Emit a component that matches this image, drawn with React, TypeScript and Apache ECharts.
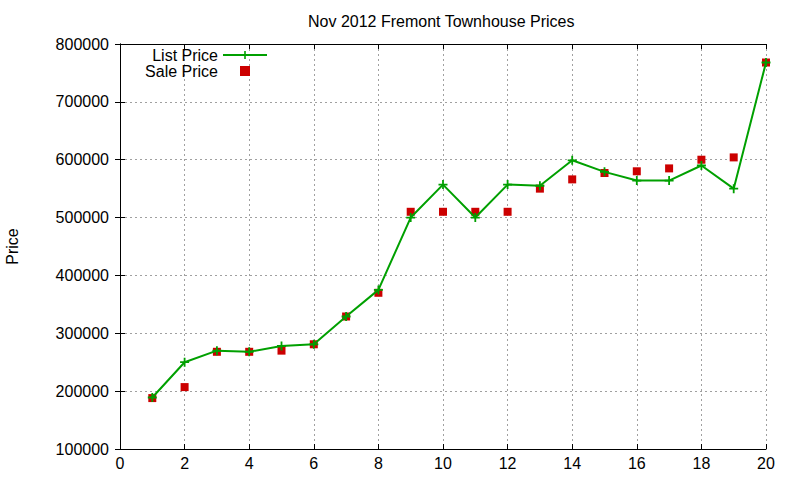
import { useEffect, useRef } from 'react';
import * as echarts from 'echarts';

// listing index 1..20
const listingIdx = [1, 2, 3, 4, 5, 6, 7, 8, 9, 10, 11, 12, 13, 14, 15, 16, 17, 18, 19, 20];
const listPrice = [
  189000, 250000, 270000, 268000, 278000, 281000, 329000, 375000, 500000, 557000,
  500000, 557000, 555000, 599000, 579000, 564000, 564000, 590000, 550000, 768000,
];
const salePrice = [
  188000, 207000, 268000, 268000, 270000, 281000, 329000, 370000, 510000, 510000,
  510000, 510000, 550000, 566000, 577000, 580000, 585000, 600000, 604000, 768000,
];

const GREEN = '#00a000';
const RED = '#cc0000';
const FONT = '"Liberation Sans", Arial, sans-serif';
const PLUS = 'path://M3.6,0H5.4V9H3.6Z M0,3.6H9V5.4H0Z';
const SQUARE = 'path://M0,0H10V10H0Z';

export default function App() {
  const ref = useRef<HTMLDivElement>(null);

  useEffect(() => {
    document.body.style.margin = '0';
    if (!ref.current) return;
    const chart = echarts.init(ref.current, undefined, { renderer: 'svg' });
    const tick = { show: true, inside: true, length: 5, lineStyle: { color: '#000' } };
    const line = { show: true, lineStyle: { color: '#000', width: 1 } };
    const grid = { show: true, lineStyle: { color: '#a0a0a0', type: [2, 3] as number[], width: 1 } };
    chart.setOption({
      animation: false,
      backgroundColor: '#fff',
      textStyle: { fontFamily: FONT },
      title: {
        text: 'Nov 2012 Fremont Townhouse Prices',
        left: 308,
        top: 13,
        padding: 0,
        textStyle: { fontSize: 16, fontWeight: 'normal', color: '#000', fontFamily: FONT },
      },
      legend: {
        data: [{ name: 'List Price' }, { name: 'Sale Price', icon: SQUARE }],
        orient: 'vertical',
        align: 'right',
        right: 532,
        top: 47,
        padding: 0,
        itemGap: 0,
        itemWidth: 44,
        itemHeight: 10,
        textStyle: { fontSize: 16, color: '#000', lineHeight: 16, fontFamily: FONT },
      },
      grid: { left: 120, right: 34, top: 44, bottom: 31, outerBoundsMode: 'none' },
      xAxis: [
        {
          type: 'value',
          min: 0,
          max: 20,
          interval: 2,
          axisLine: line,
          axisTick: tick,
          splitLine: grid,
          axisLabel: { color: '#000', fontSize: 16, margin: 6, fontFamily: FONT },
        },
        {
          type: 'value',
          position: 'top',
          min: 0,
          max: 20,
          interval: 2,
          axisLine: line,
          axisTick: tick,
          splitLine: { show: false },
          axisLabel: { show: false },
        },
      ],
      yAxis: [
        {
          type: 'value',
          min: 100000,
          max: 800000,
          interval: 100000,
          name: 'Price',
          nameLocation: 'middle',
          nameRotate: 90,
          nameGap: 100,
          nameTextStyle: { color: '#000', fontSize: 16, fontFamily: FONT },
          axisLine: line,
          axisTick: tick,
          splitLine: grid,
          axisLabel: {
            color: '#000',
            fontSize: 16,
            margin: 11,
            fontFamily: FONT,
            formatter: (v: number) => String(v),
          },
        },
        {
          type: 'value',
          position: 'right',
          min: 100000,
          max: 800000,
          interval: 100000,
          axisLine: line,
          axisTick: tick,
          splitLine: { show: false },
          axisLabel: { show: false },
        },
      ],
      series: [
        {
          name: 'List Price',
          type: 'line',
          data: listingIdx.map((x, i) => [x, listPrice[i]]),
          symbol: PLUS,
          symbolSize: 9,
          showAllSymbol: true,
          itemStyle: { color: GREEN },
          lineStyle: { color: GREEN, width: 2 },
        },
        {
          name: 'Sale Price',
          type: 'scatter',
          data: listingIdx.map((x, i) => [x, salePrice[i]]),
          symbol: 'rect',
          symbolSize: 8,
          itemStyle: { color: RED, opacity: 1 },
        },
      ],
    });
    return () => {
      chart.dispose();
    };
  }, []);

  return <div ref={ref} style={{ width: 800, height: 480 }} />;
}
